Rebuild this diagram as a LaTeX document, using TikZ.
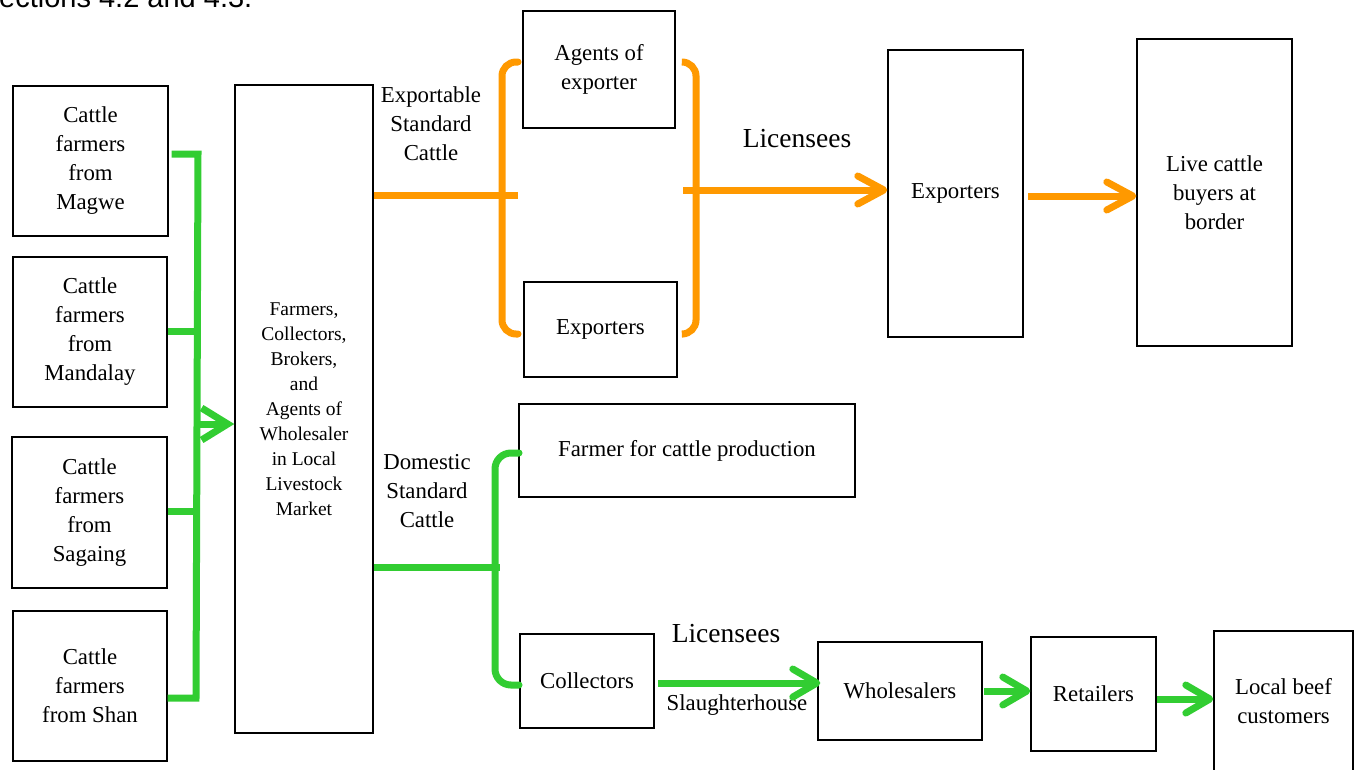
\documentclass[tikz,border=0pt]{standalone}
\usepackage{fontspec}
\setmainfont{Liberation Serif}
\newfontfamily\capfont{Liberation Sans}
\usetikzlibrary{arrows.meta,calc}
\definecolor{orgC}{RGB}{255,153,0}
\definecolor{grnC}{RGB}{50,205,50}
\begin{document}
\begin{tikzpicture}[x=1pt,y=-1pt,
  box/.style 2 args={draw=black, line width=1.4pt, inner sep=0pt, align=center,
     minimum width=#1, minimum height=#2, font=\fontsize{22.8}{29}\selectfont},
  midbox/.style 2 args={box={#1}{#2}, font=\fontsize{19.5}{25}\selectfont},
  lbl/.style={inner sep=0pt, align=center, font=\fontsize{22.8}{29}\selectfont},
  biglbl/.style={inner sep=0pt, align=center, font=\fontsize{27.5}{30}\selectfont},
  oline/.style={draw=orgC, line width=7pt},
  gline/.style={draw=grnC, line width=7pt},
  ohead/.style={-{Straight Barb[length=26pt,width=28pt,round]}},
  ghead/.style={-{Straight Barb[length=24pt,width=28pt,round]}},
  gbighead/.style={-{Straight Barb[length=26pt,width=32pt]}}
]
\useasboundingbox (0,0) rectangle (1357,769);
\clip (0,0) rectangle (1357,769);

% clipped caption line at top
\node[anchor=base west, inner sep=0pt, font=\capfont\fontsize{29}{30}\selectfont] (sec) at (-1,7) {ections 4.2 and 4.3.};

% source boxes
\node[box={155pt}{150pt}] (magwe) at (90.5,161) {Cattle\\farmers\\from\\Magwe};
\node[box={154pt}{150pt}] (mandalay) at (90,332) {Cattle\\farmers\\from\\Mandalay};
\node[box={155pt}{151pt}] (sagaing) at (89.5,512.5) {Cattle\\farmers\\from\\Sagaing};
\node[box={154pt}{150pt}] (shan) at (90,686) {Cattle\\farmers\\from Shan};

% middle market box
\node[midbox={138pt}{648pt}] (mid) at (304,409) {Farmers,\\Collectors,\\Brokers,\\and\\Agents of\\Wholesaler\\in Local\\Livestock\\Market};

% export branch
\node[box={152pt}{117pt}] (agents) at (599,69.5) {Agents of\\exporter};
\node[box={153pt}{95pt}] (expsmall) at (600.5,329.5) {Exporters};
\node[box={135pt}{287pt}] (expbig) at (955.5,193.5) {Exporters};
\node[box={155pt}{307pt}] (buyers) at (1214.5,192.5) {Live cattle\\buyers at\\border};

% domestic branch
\node[box={336pt}{93pt}] (farmer) at (687,450.5) {Farmer for cattle production};
\node[box={134pt}{94pt}] (collect) at (587,681) {Collectors};
\node[box={164pt}{98pt}] (whole) at (900,691) {Wholesalers};
\node[box={125pt}{114pt}] (retail) at (1093.5,694) {Retailers};
\node[box={139pt}{141pt}] (local) at (1283.5,701.5) {Local beef\\customers};

% labels
\node[lbl] (explbl) at (431,124) {Exportable\\Standard\\Cattle};
\node[lbl] (domlbl) at (427,491) {Domestic\\Standard\\Cattle};
\node[biglbl] (lic1) at (797,139) {Licensees};
\node[biglbl] (lic2) at (726,634) {Licensees};
\node[lbl] (slh) at (737,705) {Slaughterhouse};

% green collector bracket on the left
\coordinate (gt) at (198,154);
\coordinate (gb) at (196,698);
\coordinate (g2) at (197,331);
\coordinate (g3) at (196,511);
\coordinate (ga) at (197,424);
\draw[gline, line join=miter] ([xshift=3pt]magwe.east |- gt) -- (gt) -- (gb) -- (shan.east |- gb);
\draw[gline] (mandalay.east |- g2) -- (g2);
\draw[gline] (sagaing.east |- g3) -- (g3);
\draw[gline, gbighead] (ga) -- (ga -| mid.west);

% orange export bracket
\coordinate (ol) at (518,195);
\draw[oline] (mid.east |- ol) -- (ol);
\draw[oline, rounded corners=14pt, line cap=round] (518,62) -- (502,62) -- (502,334) -- (518,334);
\draw[oline, rounded corners=14pt, line cap=round] (683,62) -- (696,62) -- (696,334) -- (683,334);
\coordinate (or) at (683,190);
\draw[oline, ohead] (or) -- (or -| expbig.west);
\coordinate (oe) at (1028,196);
\draw[oline, ohead] (oe) -- (oe -| buyers.west);

% green domestic bracket
\coordinate (gl) at (500,567);
\draw[gline] (mid.east |- gl) -- (gl);
\draw[gline, rounded corners=16pt, line cap=round] (519,453) -- (495,453) -- (495,685) -- (519,685);
\coordinate (gc) at (658,683);
\draw[gline, ghead] (gc) -- ([xshift=3pt]gc -| whole.west);
\coordinate (gw) at (984,691);
\draw[gline, ghead] (gw) -- (gw -| retail.west);
\coordinate (gr) at (1157,699);
\draw[gline, ghead] (gr) -- (gr -| local.west);
\end{tikzpicture}
\end{document}
